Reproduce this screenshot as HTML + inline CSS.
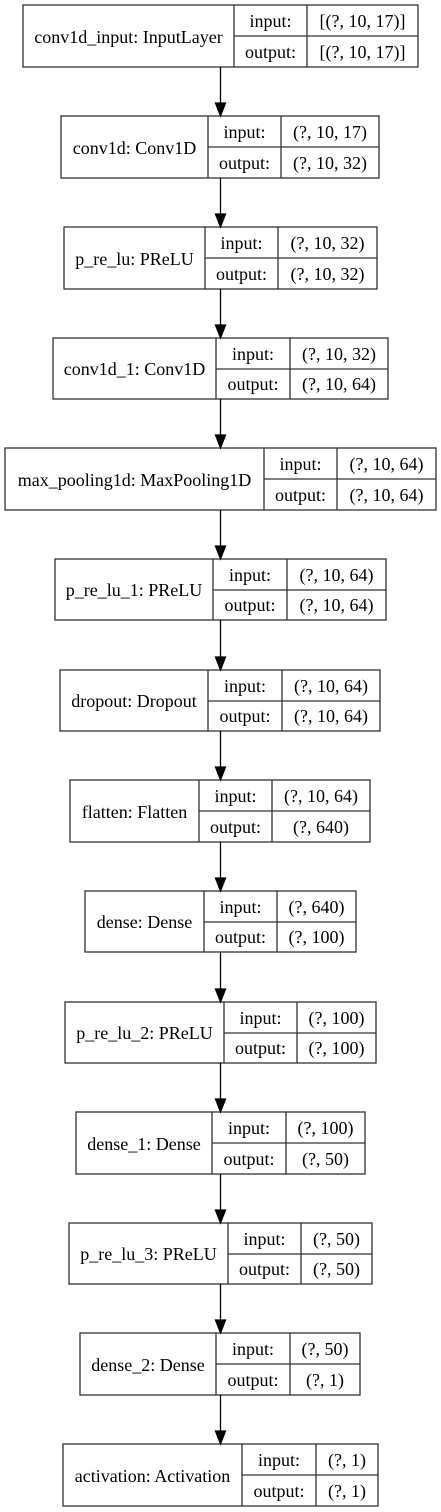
<!DOCTYPE html>
<html><head><meta charset="utf-8"><style>
html,body{margin:0;padding:0;background:#fff;width:441px;height:1512px;overflow:hidden}
svg{display:block}
text{font-family:"Liberation Serif",serif;font-size:18px;fill:#000}
</style></head><body>
<svg width="441" height="1512" viewBox="0 0 441 1512" xmlns="http://www.w3.org/2000/svg">
<g fill="none" stroke="#333" stroke-width="1.3">
<rect x="23" y="5" width="395" height="62"/><line x1="234" y1="5" x2="234" y2="67"/><line x1="307" y1="5" x2="307" y2="67"/><line x1="234" y1="36" x2="418" y2="36"/>
<rect x="61" y="116" width="318" height="62"/><line x1="208" y1="116" x2="208" y2="178"/><line x1="281" y1="116" x2="281" y2="178"/><line x1="208" y1="147" x2="379" y2="147"/>
<rect x="64" y="227" width="313" height="62"/><line x1="205" y1="227" x2="205" y2="289"/><line x1="278" y1="227" x2="278" y2="289"/><line x1="205" y1="258" x2="377" y2="258"/>
<rect x="53" y="338" width="335" height="61"/><line x1="216" y1="338" x2="216" y2="399"/><line x1="290" y1="338" x2="290" y2="399"/><line x1="216" y1="369" x2="388" y2="369"/>
<rect x="5" y="448" width="431" height="62"/><line x1="264" y1="448" x2="264" y2="510"/><line x1="337" y1="448" x2="337" y2="510"/><line x1="264" y1="479" x2="436" y2="479"/>
<rect x="55" y="559" width="331" height="61"/><line x1="213" y1="559" x2="213" y2="620"/><line x1="287" y1="559" x2="287" y2="620"/><line x1="213" y1="590" x2="386" y2="590"/>
<rect x="60" y="670" width="320" height="61"/><line x1="208" y1="670" x2="208" y2="731"/><line x1="282" y1="670" x2="282" y2="731"/><line x1="208" y1="701" x2="380" y2="701"/>
<rect x="70" y="780" width="300" height="62"/><line x1="199" y1="780" x2="199" y2="842"/><line x1="272" y1="780" x2="272" y2="842"/><line x1="199" y1="811" x2="370" y2="811"/>
<rect x="85" y="891" width="271" height="61"/><line x1="204" y1="891" x2="204" y2="952"/><line x1="277" y1="891" x2="277" y2="952"/><line x1="204" y1="922" x2="356" y2="922"/>
<rect x="65" y="1002" width="311" height="61"/><line x1="224" y1="1002" x2="224" y2="1063"/><line x1="297" y1="1002" x2="297" y2="1063"/><line x1="224" y1="1033" x2="376" y2="1033"/>
<rect x="76" y="1112" width="289" height="62"/><line x1="212" y1="1112" x2="212" y2="1174"/><line x1="286" y1="1112" x2="286" y2="1174"/><line x1="212" y1="1143" x2="365" y2="1143"/>
<rect x="69" y="1223" width="303" height="61"/><line x1="228" y1="1223" x2="228" y2="1284"/><line x1="301" y1="1223" x2="301" y2="1284"/><line x1="228" y1="1254" x2="372" y2="1254"/>
<rect x="80" y="1333" width="280" height="62"/><line x1="216" y1="1333" x2="216" y2="1395"/><line x1="290" y1="1333" x2="290" y2="1395"/><line x1="216" y1="1364" x2="360" y2="1364"/>
<rect x="63" y="1444" width="315" height="62"/><line x1="242" y1="1444" x2="242" y2="1506"/><line x1="316" y1="1444" x2="316" y2="1506"/><line x1="242" y1="1475" x2="378" y2="1475"/>
</g>
<g stroke="#000" stroke-width="1.3" fill="#000">
<line x1="220.5" y1="67" x2="220.5" y2="104"/><polygon points="215.5,103 225.5,103 220.5,116"/>
<line x1="220.5" y1="178" x2="220.5" y2="215"/><polygon points="215.5,214 225.5,214 220.5,227"/>
<line x1="220.5" y1="289" x2="220.5" y2="326"/><polygon points="215.5,325 225.5,325 220.5,338"/>
<line x1="220.5" y1="399" x2="220.5" y2="436"/><polygon points="215.5,435 225.5,435 220.5,448"/>
<line x1="220.5" y1="510" x2="220.5" y2="547"/><polygon points="215.5,546 225.5,546 220.5,559"/>
<line x1="220.5" y1="620" x2="220.5" y2="658"/><polygon points="215.5,657 225.5,657 220.5,670"/>
<line x1="220.5" y1="731" x2="220.5" y2="768"/><polygon points="215.5,767 225.5,767 220.5,780"/>
<line x1="220.5" y1="842" x2="220.5" y2="879"/><polygon points="215.5,878 225.5,878 220.5,891"/>
<line x1="220.5" y1="952" x2="220.5" y2="990"/><polygon points="215.5,989 225.5,989 220.5,1002"/>
<line x1="220.5" y1="1063" x2="220.5" y2="1100"/><polygon points="215.5,1099 225.5,1099 220.5,1112"/>
<line x1="220.5" y1="1174" x2="220.5" y2="1211"/><polygon points="215.5,1210 225.5,1210 220.5,1223"/>
<line x1="220.5" y1="1284" x2="220.5" y2="1321"/><polygon points="215.5,1320 225.5,1320 220.5,1333"/>
<line x1="220.5" y1="1395" x2="220.5" y2="1432"/><polygon points="215.5,1431 225.5,1431 220.5,1444"/>
</g>
<g text-anchor="middle">
<text x="128.5" y="43">conv1d_input: InputLayer</text><text x="270.5" y="27">input:</text><text x="270.5" y="58">output:</text><text x="362.5" y="27">[(?, 10, 17)]</text><text x="362.5" y="58">[(?, 10, 17)]</text>
<text x="134.5" y="154">conv1d: Conv1D</text><text x="244.5" y="138">input:</text><text x="244.5" y="169">output:</text><text x="330" y="138">(?, 10, 17)</text><text x="330" y="169">(?, 10, 32)</text>
<text x="134.5" y="265">p_re_lu: PReLU</text><text x="241.5" y="249">input:</text><text x="241.5" y="280">output:</text><text x="327.5" y="249">(?, 10, 32)</text><text x="327.5" y="280">(?, 10, 32)</text>
<text x="134.5" y="375">conv1d_1: Conv1D</text><text x="253" y="360">input:</text><text x="253" y="390">output:</text><text x="339" y="360">(?, 10, 32)</text><text x="339" y="390">(?, 10, 64)</text>
<text x="134.5" y="486">max_pooling1d: MaxPooling1D</text><text x="300.5" y="470">input:</text><text x="300.5" y="501">output:</text><text x="386.5" y="470">(?, 10, 64)</text><text x="386.5" y="501">(?, 10, 64)</text>
<text x="134" y="596">p_re_lu_1: PReLU</text><text x="250" y="581">input:</text><text x="250" y="611">output:</text><text x="336.5" y="581">(?, 10, 64)</text><text x="336.5" y="611">(?, 10, 64)</text>
<text x="134" y="707">dropout: Dropout</text><text x="245" y="692">input:</text><text x="245" y="722">output:</text><text x="331" y="692">(?, 10, 64)</text><text x="331" y="722">(?, 10, 64)</text>
<text x="134.5" y="818">flatten: Flatten</text><text x="235.5" y="802">input:</text><text x="235.5" y="833">output:</text><text x="321" y="802">(?, 10, 64)</text><text x="321" y="833">(?, 640)</text>
<text x="144.5" y="928">dense: Dense</text><text x="240.5" y="913">input:</text><text x="240.5" y="943">output:</text><text x="316.5" y="913">(?, 640)</text><text x="316.5" y="943">(?, 100)</text>
<text x="144.5" y="1039">p_re_lu_2: PReLU</text><text x="260.5" y="1024">input:</text><text x="260.5" y="1054">output:</text><text x="336.5" y="1024">(?, 100)</text><text x="336.5" y="1054">(?, 100)</text>
<text x="144" y="1150">dense_1: Dense</text><text x="249" y="1134">input:</text><text x="249" y="1165">output:</text><text x="325.5" y="1134">(?, 100)</text><text x="325.5" y="1165">(?, 50)</text>
<text x="148.5" y="1260">p_re_lu_3: PReLU</text><text x="264.5" y="1245">input:</text><text x="264.5" y="1275">output:</text><text x="336.5" y="1245">(?, 50)</text><text x="336.5" y="1275">(?, 50)</text>
<text x="148" y="1371">dense_2: Dense</text><text x="253" y="1355">input:</text><text x="253" y="1386">output:</text><text x="325" y="1355">(?, 50)</text><text x="325" y="1386">(?, 1)</text>
<text x="152.5" y="1482">activation: Activation</text><text x="279" y="1466">input:</text><text x="279" y="1497">output:</text><text x="347" y="1466">(?, 1)</text><text x="347" y="1497">(?, 1)</text>
</g>
</svg>
</body></html>
